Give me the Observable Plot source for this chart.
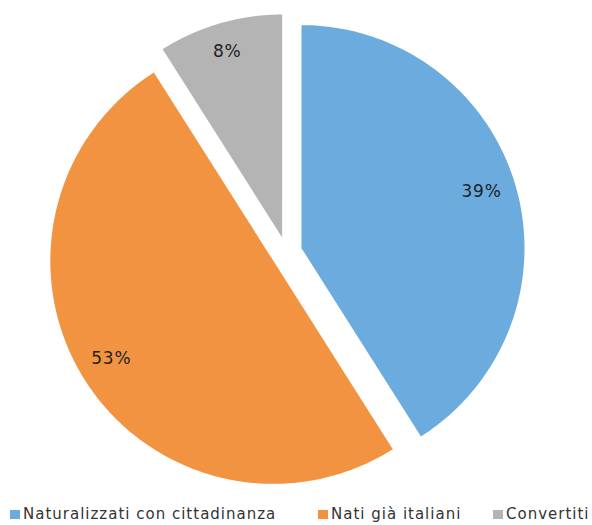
<!DOCTYPE html>
<html>
<head>
<meta charset="utf-8">
<script src="https://cdn.jsdelivr.net/npm/d3@7"></script>
<script src="https://cdn.jsdelivr.net/npm/@observablehq/plot@0.6"></script>
<style>
  body { margin: 0; background: #fff; }
  #chart svg { display: block; }
  #chart text { letter-spacing: 0.8px; }
  #legend { position: relative; width: 592px; height: 25px; font-family: "DejaVu Sans", sans-serif; font-size: 15px; letter-spacing: 1px; color: #333; }
  #legend .item { position: absolute; top: 5px; display: flex; align-items: center; white-space: nowrap; }
  #legend .sw { width: 10px; height: 9px; margin-right: 3px; }
</style>
</head>
<body>
<div id="chart"></div>
<div id="legend"></div>
<script>
// Data
const categories = ["Naturalizzati con cittadinanza", "Nati già italiani", "Convertiti"];
// NOTE: in the reference picture the slice angles measure about 41% / 50% / 9%
// (blue ≈148°, orange ≈180°, grey ≈32°), which does NOT match the printed labels
// 39% / 53% / 8%. Slices here follow the angles as drawn; labels are kept verbatim.
// To draw slices from the printed percentages instead, use shares = [39, 53, 8].
const shares = [41, 50, 9];
const labels = ["39%", "53%", "8%"];   // printed data labels (as in the reference)
const colors = ["#6CABDD", "#F29341", "#B4B4B4"];

// Styling / layout
const explode = 0.07;                  // fraction of radius
const W = 592, H = 500, R = 223, CX = 286, CY = 252;
const labelR = 0.85;

const arcs = d3.pie().sort(null).startAngle(0).endAngle(2 * Math.PI)(shares);

const polys = [];
const texts = [];
arcs.forEach((a, i) => {
  const mid = (a.startAngle + a.endAngle) / 2;
  const ox = explode * Math.sin(mid), oy = explode * Math.cos(mid);
  polys.push({name: categories[i], x: ox, y: oy});
  const n = 120;
  for (let k = 0; k <= n; k++) {
    const t = a.startAngle + (a.endAngle - a.startAngle) * k / n;
    polys.push({name: categories[i], x: ox + Math.sin(t), y: oy + Math.cos(t)});
  }
  texts.push({label: labels[i], x: ox + labelR * Math.sin(mid), y: oy + labelR * Math.cos(mid)});
});

const chart = Plot.plot({
  width: W, height: H,
  margin: 0,
  x: {domain: [-CX / R, (W - CX) / R], range: [0, W], axis: null},
  y: {domain: [-(H - CY) / R, CY / R], range: [H, 0], axis: null},
  color: {domain: categories, range: colors},
  marks: [
    Plot.line(polys, {x: "x", y: "y", z: "name", fill: "name", stroke: null, curve: "linear-closed"}),
    Plot.text(texts, {x: "x", y: "y", text: "label", dx: -2, dy: -4, fontSize: 17, fill: "#222", fontFamily: "DejaVu Sans, sans-serif"})
  ]
});
document.getElementById("chart").appendChild(chart);

const legendLeft = [10, 318, 493];
const lg = document.getElementById("legend");
categories.forEach((c, i) => {
  const it = document.createElement("div");
  it.className = "item";
  it.style.left = legendLeft[i] + "px";
  const sw = document.createElement("span");
  sw.className = "sw";
  sw.style.background = colors[i];
  const tx = document.createElement("span");
  tx.textContent = c;
  it.appendChild(sw); it.appendChild(tx);
  lg.appendChild(it);
});
</script>
</body>
</html>
